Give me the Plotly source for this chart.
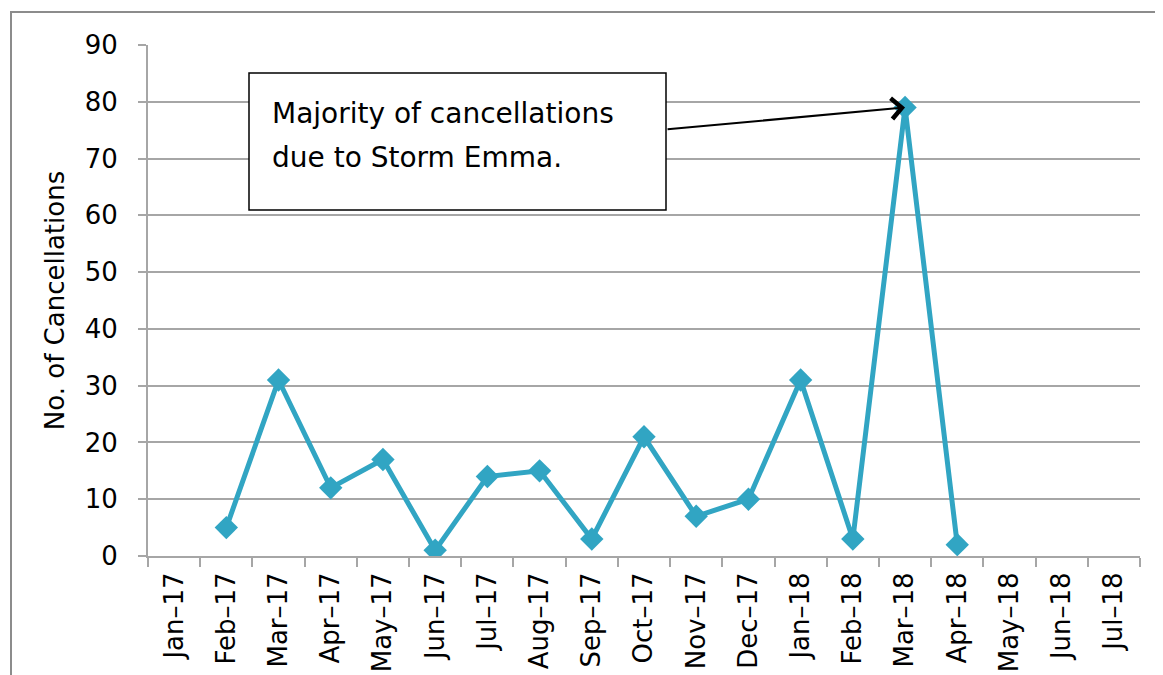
import plotly.graph_objects as go

months = ["Jan–17", "Feb–17", "Mar–17", "Apr–17", "May–17", "Jun–17", "Jul–17",
          "Aug–17", "Sep–17", "Oct–17", "Nov–17", "Dec–17", "Jan–18", "Feb–18",
          "Mar–18", "Apr–18", "May–18", "Jun–18", "Jul–18"]
cancellations = [None, 5, 31, 12, 17, 1, 14, 15, 3, 21, 7, 10, 31, 3, 79, 2, None, None, None]
y_ticks = [0, 10, 20, 30, 40, 50, 60, 70, 80, 90]

note_line1 = "Majority of cancellations"
note_line2 = "due to Storm Emma."
peak_month = "Mar–18"
peak_value = 79

FONT = "DejaVu Sans"
TEAL = "#31a5c3"
GRID = "#a6a6a6"

# page body has an 8px margin; figure placed so the plot lands where the reference's does
OFF = 8
W, H = 1147, 667
L, T = 140, 37
PW, PH = 992, 511
R = W - L - PW
B = H - T - PH


def px(sx):
    """screen x -> paper x"""
    return (sx - OFF - L) / PW


def py(sy):
    """screen y -> paper y"""
    return (T + PH - (sy - OFF)) / PH


fig = go.Figure()
fig.add_trace(go.Scatter(
    x=months, y=cancellations, mode="lines+markers",
    line=dict(color=TEAL, width=5),
    marker=dict(symbol="diamond", size=18, color=TEAL),
    connectgaps=False, showlegend=False,
))

# annotation box
fig.add_shape(type="rect", xref="paper", yref="paper",
              x0=px(249), x1=px(666), y0=py(210), y1=py(73),
              line=dict(color="black", width=1.5), fillcolor="white", layer="above")
fig.add_annotation(xref="paper", yref="paper", x=px(270), y=py(113),
                   xanchor="left", yanchor="middle", text=note_line1, showarrow=False,
                   font=dict(family=FONT, size=28, color="black"))
fig.add_annotation(xref="paper", yref="paper", x=px(270), y=py(157),
                   xanchor="left", yanchor="middle", text=note_line2, showarrow=False,
                   font=dict(family=FONT, size=28, color="black"))
# arrow
fig.add_annotation(x=peak_month, y=peak_value, text="", showarrow=True,
                   ax=666 - 905, ay=130 - 108, axref="pixel", ayref="pixel",
                   arrowhead=4, arrowwidth=2, arrowsize=2, arrowcolor="black", standoff=0)

# outer frame (cropped)
fig.add_shape(type="path", xref="paper", yref="paper",
              path=f"M {px(11)},{py(700)} L {px(11)},{py(12)} L {px(1175)},{py(12)}",
              line=dict(color="#8c8c8c", width=2))

fig.update_layout(
    width=W, height=H, autosize=False,
    margin=dict(l=L, r=R, t=T, b=B, pad=0),
    paper_bgcolor="white", plot_bgcolor="white",
    font=dict(family=FONT, size=26, color="black"),
    xaxis=dict(
        type="category", categoryorder="array", categoryarray=months,
        range=[-0.5, len(months) - 0.5], automargin=False,
        tickangle=-90, tickson="boundaries", ticks="outside", ticklen=9,
        tickcolor=GRID, tickwidth=2,
        showline=True, linecolor=GRID, linewidth=2, showgrid=False,
        tickfont=dict(family=FONT, size=26, color="black"),
        ticklabelstandoff=4,
    ),
    yaxis=dict(
        range=[0, 90], tickvals=y_ticks, ticks="outside", ticklen=8, automargin=False,
        tickcolor=GRID, tickwidth=2,
        showline=True, linecolor=GRID, linewidth=2,
        showgrid=True, gridcolor=GRID, gridwidth=2, zeroline=False,
        tickfont=dict(family=FONT, size=26, color="black"),
        ticklabelstandoff=15,
        title=dict(text="No. of Cancellations", font=dict(family=FONT, size=26, color="black"),
                   standoff=13),
    ),
)

fig.write_html("out.html")
